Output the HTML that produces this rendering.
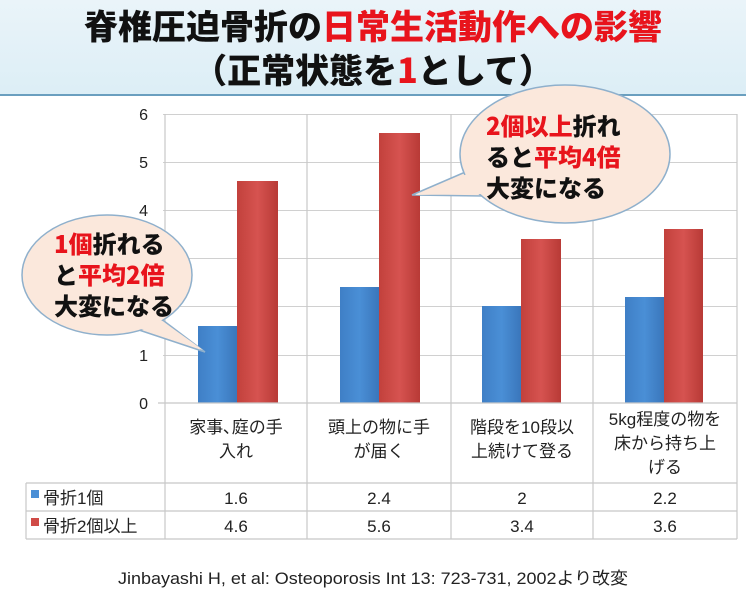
<!DOCTYPE html>
<html><head><meta charset="utf-8"><style>
body{margin:0;width:746px;height:597px;overflow:hidden;background:#fff;font-family:"Liberation Sans","Noto Sans CJK JP",sans-serif}
</style></head><body>
<svg width="746" height="597" xmlns="http://www.w3.org/2000/svg" style="position:absolute;left:0;top:0">
<defs>
<linearGradient id="hd" x1="0" y1="0" x2="0" y2="1"><stop offset="0" stop-color="#eaf4f9"/><stop offset="1" stop-color="#dceef6"/></linearGradient>
<linearGradient id="bl" x1="0" y1="0" x2="1" y2="0"><stop offset="0" stop-color="#3f7fc6"/><stop offset="0.5" stop-color="#4a8fd6"/><stop offset="1" stop-color="#3a76bb"/></linearGradient>
<linearGradient id="rd" x1="0" y1="0" x2="1" y2="0"><stop offset="0" stop-color="#c2413c"/><stop offset="0.5" stop-color="#d65350"/><stop offset="1" stop-color="#b83a36"/></linearGradient>
</defs>
<rect x="0" y="0" width="746" height="95" fill="url(#hd)"/>
<line x1="0" y1="95" x2="746" y2="95" stroke="#6a9fbf" stroke-width="2"/>
<g font-weight="900" font-size="34" text-anchor="middle" font-family="'Noto Sans CJK JP',sans-serif">
<text x="373" y="39"><tspan fill="#111">脊椎圧迫骨折の</tspan><tspan fill="#e8141c">日常生活動作への影響</tspan></text>
<text x="373" y="83"><tspan fill="#111">（正常状態を</tspan><tspan fill="#e8141c">1</tspan><tspan fill="#111">として）</tspan></text>
</g>
<g stroke="#d0d0d0" stroke-width="1">
<line x1="163" y1="114.5" x2="737" y2="114.5"/><line x1="163" y1="162.5" x2="737" y2="162.5"/>
<line x1="163" y1="210.5" x2="737" y2="210.5"/><line x1="163" y1="258.5" x2="737" y2="258.5"/>
<line x1="163" y1="306.5" x2="737" y2="306.5"/><line x1="163" y1="355.5" x2="737" y2="355.5"/>
</g>
<g font-size="16" fill="#222" text-anchor="end">
<text x="148" y="120">6</text><text x="148" y="168">5</text><text x="148" y="216">4</text><text x="148" y="264">3</text><text x="148" y="312">2</text><text x="148" y="361">1</text><text x="148" y="409">0</text>
</g>
<rect x="198" y="326" width="39" height="77" fill="url(#bl)"/><rect x="237" y="181" width="41" height="222" fill="url(#rd)"/>
<rect x="340" y="287" width="39" height="116" fill="url(#bl)"/><rect x="379" y="133" width="41" height="270" fill="url(#rd)"/>
<rect x="482" y="306" width="39" height="97" fill="url(#bl)"/><rect x="521" y="239" width="40" height="164" fill="url(#rd)"/>
<rect x="625" y="297" width="39" height="106" fill="url(#bl)"/><rect x="664" y="229" width="39" height="174" fill="url(#rd)"/>
<g stroke="#c8c8c8" stroke-width="1.2" fill="none">
<line x1="165" y1="114" x2="165" y2="539"/><line x1="307" y1="114" x2="307" y2="539"/><line x1="451" y1="114" x2="451" y2="539"/><line x1="593" y1="114" x2="593" y2="539"/><line x1="737" y1="114" x2="737" y2="539"/>
<line x1="158" y1="403" x2="737" y2="403"/>
<line x1="26" y1="483" x2="737" y2="483"/><line x1="26" y1="511" x2="737" y2="511"/><line x1="26" y1="539" x2="737" y2="539"/>
<line x1="26" y1="483" x2="26" y2="539"/>
</g>
<g font-size="17" fill="#222" text-anchor="middle">
<text x="236" y="433">家事､庭の手</text><text x="236" y="457">入れ</text>
<text x="379" y="433">頭上の物に手</text><text x="379" y="457">が届く</text>
<text x="522" y="433">階段を10段以</text><text x="522" y="457">上続けて登る</text>
<text x="665" y="425">5kg程度の物を</text><text x="665" y="449">床から持ち上</text><text x="665" y="473">げる</text>
<text x="236" y="504">1.6</text><text x="379" y="504">2.4</text><text x="522" y="504">2</text><text x="665" y="504">2.2</text>
<text x="236" y="532">4.6</text><text x="379" y="532">5.6</text><text x="522" y="532">3.4</text><text x="665" y="532">3.6</text>
</g>
<rect x="31" y="490" width="8" height="8" fill="#4a8fd6"/><rect x="31" y="518" width="8" height="8" fill="#d04b47"/>
<g font-size="17" fill="#222"><text x="43" y="504">骨折1個</text><text x="43" y="532">骨折2個以上</text></g>
<text x="373" y="584" font-size="17" fill="#222" text-anchor="middle" textLength="510" lengthAdjust="spacingAndGlyphs">Jinbayashi H, et al: Osteoporosis Int 13: 723-731, 2002より改変</text>
<path d="M 160 318 L 205 352 L 130 327 Z" fill="#fbe8dc" stroke="#8fb0cc" stroke-width="1.5"/>
<ellipse cx="107" cy="275" rx="85" ry="60" fill="#fbe8dc" stroke="#8fb0cc" stroke-width="1.5"/>
<path d="M 470 170 L 412 195 L 482 196 Z" fill="#fbe8dc" stroke="#8fb0cc" stroke-width="1.5"/>
<ellipse cx="565" cy="154" rx="105" ry="69" fill="#fbe8dc" stroke="#8fb0cc" stroke-width="1.5"/>
<path d="M 158 318 L 203 350 L 132 326 Z" fill="#fbe8dc"/>
<path d="M 472 172 L 415 195 L 484 194 Z" fill="#fbe8dc"/>
<g font-weight="900" font-size="24" fill="#111" font-family="'Noto Sans CJK JP',sans-serif">
<text x="54" y="253"><tspan fill="#e8141c">1個</tspan>折れる</text>
<text x="54" y="284">と<tspan fill="#e8141c">平均2倍</tspan></text>
<text x="54" y="315">大変になる</text>
<text x="486" y="135"><tspan fill="#e8141c">2個以上</tspan>折れ</text>
<text x="486" y="166">ると<tspan fill="#e8141c">平均4倍</tspan></text>
<text x="486" y="197">大変になる</text>
</g>
</svg>
</body></html>
